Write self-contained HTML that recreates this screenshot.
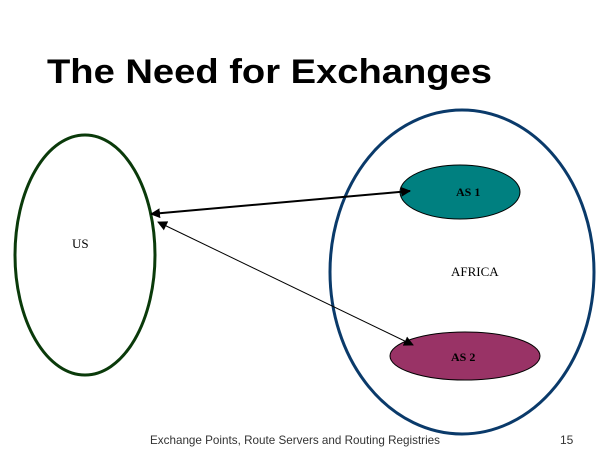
<!DOCTYPE html>
<html><head><style>
body{margin:0;background:#fff;}
</style></head><body>
<svg width="600" height="450" xmlns="http://www.w3.org/2000/svg">
<defs>
<marker id="b" viewBox="0 0 10 10" refX="9" refY="5" markerWidth="10" markerHeight="10" orient="auto-start-reverse" markerUnits="userSpaceOnUse"><path d="M0,0L10,5L0,10z" fill="#000"/></marker>
</defs>
<text x="47" y="83" font-family="Liberation Sans, sans-serif" font-weight="bold" font-size="34" textLength="445" lengthAdjust="spacingAndGlyphs">The Need for Exchanges</text>
<ellipse cx="85" cy="255" rx="70" ry="120" fill="none" stroke="#0a3a0a" stroke-width="3"/>
<ellipse cx="462" cy="272" rx="132" ry="162" fill="none" stroke="#0a3a6a" stroke-width="3"/>
<ellipse cx="460" cy="192" rx="60" ry="27" fill="#008080" stroke="#000" stroke-width="1"/>
<ellipse cx="465" cy="356" rx="75" ry="24" fill="#993366" stroke="#000" stroke-width="1"/>
<line x1="151" y1="214" x2="410" y2="191" stroke="#000" stroke-width="2" marker-start="url(#b)" marker-end="url(#b)"/>
<line x1="158" y1="222" x2="413" y2="345" stroke="#000" stroke-width="1" marker-start="url(#b)" marker-end="url(#b)"/>
<g font-family="Liberation Serif, serif" font-size="13">
<text x="72" y="248">US</text>
<text x="451" y="276">AFRICA</text>
<text x="456" y="196" font-weight="bold" font-size="12">AS 1</text>
<text x="451" y="361" font-weight="bold" font-size="12">AS 2</text>
</g>
<text x="150" y="444" font-family="Liberation Sans, sans-serif" font-size="12" fill="#333" textLength="290" lengthAdjust="spacingAndGlyphs">Exchange Points, Route Servers and Routing Registries</text>
<text x="560" y="444" font-family="Liberation Sans, sans-serif" font-size="12" fill="#333">15</text>
</svg>
</body></html>
